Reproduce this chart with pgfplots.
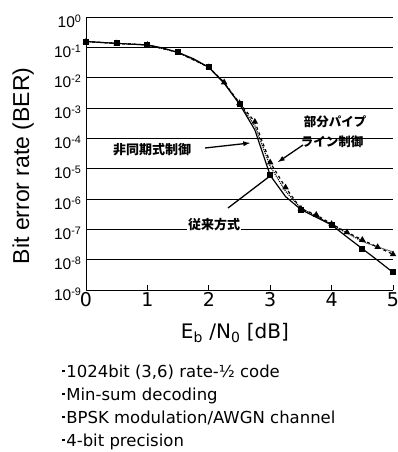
\documentclass[border=0pt]{standalone}
\usepackage{fontspec}
\setmainfont{DejaVu Sans}
\newfontfamily\arial{Liberation Sans}
\newfontfamily\jp{Noto Sans CJK JP}
\usepackage{pgfplots}
\pgfplotsset{compat=1.18}
\pgfplotstableread{
x y
0 0.155
0.25 0.145
0.5 0.135
0.75 0.127
1 0.12
1.25 0.095
1.5 0.068
1.75 0.042
2 0.022
2.25 6.5e-3
2.5 1.35e-3
2.75 1.9e-4
3 6.0e-6
3.25 1.2e-6
3.5 4.5e-7
3.75 2.5e-7
4 1.4e-7
4.25 5.6e-8
4.5 2.3e-8
4.75 9.5e-9
5 3.8e-9
}\conv
\pgfplotstableread{
x y
0 0.155
0.5 0.135
1 0.12
1.5 0.068
2 0.022
2.25 6.8e-3
2.5 1.4e-3
2.75 2.6e-4
3 1.2e-5
3.25 1.8e-6
3.5 5.0e-7
3.75 2.7e-7
4 1.45e-7
4.25 7.5e-8
4.5 4.0e-8
4.75 2.6e-8
5 1.8e-8
}\async
\pgfplotstableread{
x y
0 0.155
0.5 0.135
1 0.12
1.5 0.068
2 0.022
2.25 7.0e-3
2.5 1.45e-3
2.75 3.5e-4
3 1.6e-5
3.25 2.4e-6
3.5 4.8e-7
3.75 3.0e-7
4 1.5e-7
4.25 8.0e-8
4.5 4.5e-8
4.75 2.6e-8
5 1.5e-8
}\pipe
\begin{document}
\begin{tikzpicture}
\useasboundingbox (-86pt,-162pt) rectangle (312pt,290pt);
\begin{axis}[
  at={(0pt,0pt)}, anchor=south west, scale only axis,
  width=307pt, height=273pt,
  xmin=0, xmax=5, ymin=1e-9, ymax=1,
  ymode=log,
  axis x line*=bottom, axis y line*=left,
  axis line style={-, line width=0.9pt},
  xtick={0,1,2,3,4,5},
  /pgf/number format/assume math mode=true,
  xticklabel style={font=\fontsize{19}{20}\selectfont, yshift=1pt},
  ytick={1e-9,1e-8,1e-7,1e-6,1e-5,1e-4,1e-3,1e-2,1e-1,1},
  yticklabels={10\textsuperscript{-9},10\textsuperscript{-8},10\textsuperscript{-7},10\textsuperscript{-6},10\textsuperscript{-5},10\textsuperscript{-4},10\textsuperscript{-3},10\textsuperscript{-2},10\textsuperscript{-1},10\textsuperscript{0}},
  yticklabel style={font=\arial\fontsize{15.5}{16}\selectfont, anchor=east, yshift=-4pt, xshift=-1pt},
  ytick style={draw=none},
  xtick style={black, line width=0.8pt},
  major tick length=5pt,
  tick align=inside,
  ymajorgrids,
  grid style={black, line width=0.8pt},
  xlabel={E\textsubscript{b} /N\textsubscript{0} [dB]},
  xlabel style={font=\fontsize{20}{22}\selectfont, at={(axis description cs:0.485,-0.158)}, anchor=center},
  ylabel={Bit error rate (BER)},
  ylabel style={font=\arial\fontsize{23}{24}\selectfont, at={(axis description cs:-0.205,0.455)}, anchor=center, rotate=0},
  clip=false,
]
\addplot[black, line width=1.2pt, mark=square*, mark size=2.4pt, mark repeat=2] table[x=x,y=y] {\conv};
\addplot[black, line width=1.1pt, densely dotted] table[x=x,y=y] {\async};
\addplot[black, line width=1.2pt, dashed, mark=triangle*, mark size=2.6pt, mark options={solid}] table[x=x,y=y] {\pipe};
\end{axis}
% annotations
\node[font=\jp\bfseries\fontsize{13}{14}\selectfont, fill=white, inner sep=1pt] at (66pt,140pt) {非同期式制御};
\draw[-latex, line width=1.3pt] (119pt,142pt) -- (164pt,147pt);
\node[font=\jp\bfseries\fontsize{12.5}{14}\selectfont, inner sep=1pt] at (249pt,168pt) {部分パイプ};
\node[font=\jp\bfseries\fontsize{12.5}{14}\selectfont, inner sep=1pt] at (246pt,148pt) {ライン制御};
\draw[-latex, line width=1.3pt] (217pt,145pt) -- (192pt,128pt);
\node[font=\jp\bfseries\fontsize{13}{14}\selectfont, fill=white, inner sep=1pt] at (128pt,65pt) {従来方式};
\draw[line width=1.3pt] (142pt,82pt) -- (184pt,114pt);
% notes
\newcommand{\blt}{\rule[0.28em]{2.6pt}{2.6pt}\hspace{1.5pt}}
\node[anchor=base west, font=\fontsize{16.5}{18}\selectfont, inner sep=0pt] at (-24pt,-87pt) {\blt 1024bit (3,6) rate-½ code};
\node[anchor=base west, font=\fontsize{16.5}{18}\selectfont, inner sep=0pt] at (-24pt,-110pt) {\blt Min-sum decoding};
\node[anchor=base west, font=\fontsize{16.5}{18}\selectfont, inner sep=0pt] at (-24pt,-133pt) {\blt BPSK modulation/AWGN channel};
\node[anchor=base west, font=\fontsize{16.5}{18}\selectfont, inner sep=0pt] at (-24pt,-156pt) {\blt 4-bit precision};
\end{tikzpicture}
\end{document}
